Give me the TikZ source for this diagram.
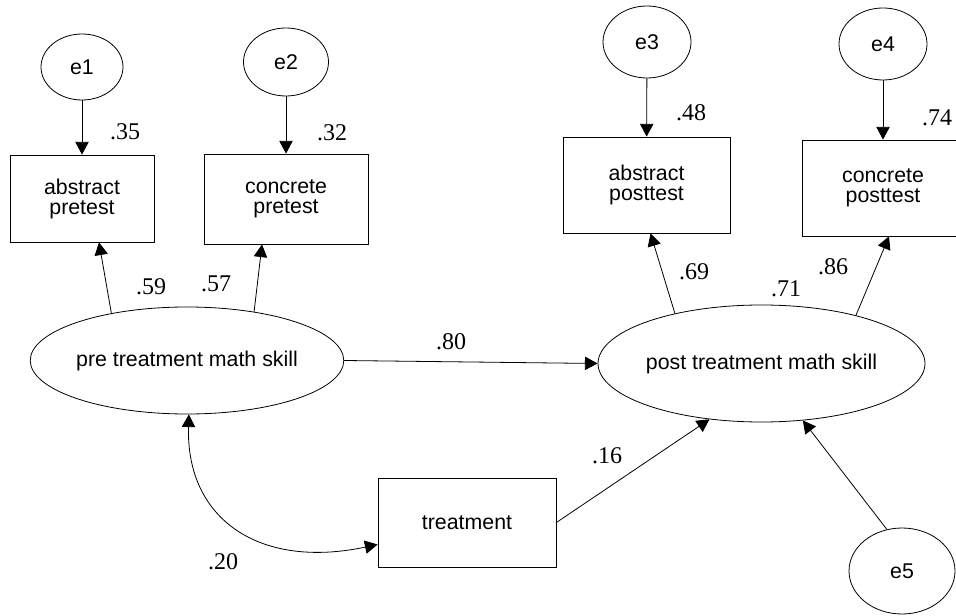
\documentclass[tikz,border=0pt]{standalone}
\usepackage{fontspec}
\setmainfont{Liberation Sans}
\newfontfamily\coeffont{Liberation Serif}
\usetikzlibrary{
  arrows.meta,
  shapes.geometric
}
\newlength\pxu
\setlength\pxu{0.75pt}
\tikzset{
  observed/.style={
    draw,
    rectangle,
    inner sep = 0pt,
    align = center,
    font = \fontsize{16}{15}\selectfont
  },
  latent/.style={
    draw,
    ellipse,
    inner sep = 0pt,
    font = \fontsize{16}{19}\selectfont
  },
  coef/.style={
    inner sep = 0pt,
    font = \coeffont\fontsize{18}{20}\selectfont
  }
}

\begin{document}
\begin{tikzpicture}[x=0.75pt, y=-0.75pt, line width=0.6pt,
    >={Triangle[length=9.5pt, width=10pt]}]
    \path[use as bounding box] (0,0) rectangle (956,616);
    \clip (0,0) rectangle (956,616);

    \node[latent, minimum width=82\pxu, minimum height=66\pxu] (e1) at (82,67) {e1};
    \node[latent, minimum width=85\pxu, minimum height=68\pxu] (e2) at (286,62) {e2};
    \node[latent, minimum width=88\pxu, minimum height=72\pxu] (e3) at (647,42) {e3};
    \node[latent, minimum width=88\pxu, minimum height=72\pxu] (e4) at (883,44) {e4};
    \node[latent, minimum width=106\pxu, minimum height=86\pxu] (e5) at (902,571) {e5};

    \node[observed, minimum width=144\pxu, minimum height=87\pxu] (absPre) at (82,198.5) {abstract\\pretest};
    \node[observed, minimum width=164\pxu, minimum height=90\pxu] (conPre) at (286,199) {concrete\\pretest};
    \node[observed, minimum width=167\pxu, minimum height=96\pxu] (absPost) at (646.5,185) {abstract\\posttest};
    \node[observed, minimum width=162\pxu, minimum height=96\pxu] (conPost) at (883,188) {concrete\\posttest};
    \node[observed, minimum width=178\pxu, minimum height=89\pxu] (treat) at (467,522.5) {treatment};

    \node[latent, minimum width=290\pxu, minimum height=107\pxu] (preSkill) at (187,360.5) {pre treatment math skill};
    \node[latent, minimum width=315\pxu, minimum height=117\pxu] (postSkill) at (761.5,363.5) {post treatment math skill};

    \foreach \e/\obs in {e1/absPre, e2/conPre, e3/absPost, e4/conPost}{
      \draw[->] (\e) -- (\obs);
    }

    \draw[->] (preSkill.148) -- ([xshift=17\pxu]absPre.south);
    \draw[->] (preSkill.36) -- ([xshift=-24\pxu]conPre.south);
    \draw[->] (postSkill.150) -- ([xshift=4\pxu]absPost.south);
    \draw[->] (postSkill.27) -- ([xshift=6\pxu]conPost.south);
    \draw[->] (preSkill.east) -- (postSkill.west);
    \draw[->] (treat.east) -- (postSkill.227);
    \draw[->] (e5.110) -- (postSkill.306);
    \draw[<->]
    (preSkill.272) .. controls +(-3,105) and +(-118,25) ..
    ([yshift=-22\pxu]treat.west);

    \node[coef] (c35) at (125,132) {.35};
    \node[coef] (c32) at (332,133) {.32};
    \node[coef] (c48) at (691,113) {.48};
    \node[coef] (c74) at (937,118) {.74};
    \node[coef] (c59) at (151,287) {.59};
    \node[coef] (c57) at (216,284) {.57};
    \node[coef] (c69) at (694,272) {.69};
    \node[coef] (c71) at (786,289) {.71};
    \node[coef] (c86) at (833,267) {.86};
    \node[coef] (c80) at (451,342) {.80};
    \node[coef] (c16) at (607,456) {.16};
    \node[coef] (c20) at (223,562) {.20};
\end{tikzpicture}
\end{document}
